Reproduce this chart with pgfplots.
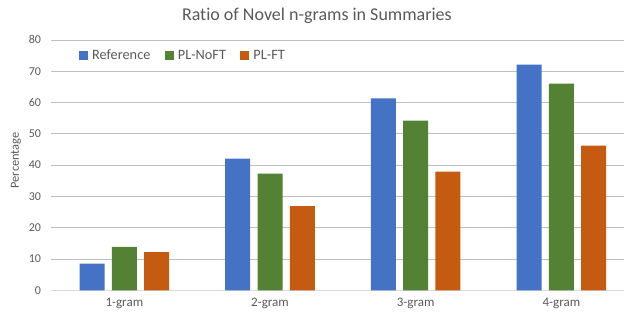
\documentclass[border=0pt]{standalone}
\usepackage{fontspec}
\setmainfont{Carlito}[Ligatures={NoCommon}]
\usepackage{pgfplots}
\pgfplotsset{compat=1.18}
\definecolor{cblue}{HTML}{4472C4}
\definecolor{cgreen}{HTML}{548235}
\definecolor{corange}{HTML}{C55A11}
\definecolor{txt}{HTML}{595959}
\definecolor{grid}{HTML}{D9D9D9}
\begin{document}
\begin{tikzpicture}
\path[use as bounding box] (-51.5pt,-25.7pt) rectangle (572.5pt,290.3pt);
\begin{axis}[
  scale only axis,
  width=572.5pt, height=250.4pt,
  ybar=7.3pt, bar width=25pt,
  xmin=-0.5, xmax=3.43,
  ymin=0, ymax=80,
  ytick={0,10,...,80},
  xtick={0,1,2,3},
  xticklabels={1-gram,2-gram,3-gram,4-gram},
  axis x line*=bottom,
  axis y line*=left,
  x axis line style={draw=grid, line width=1pt, -},
  y axis line style={draw=none},
  major tick length=0pt,
  xmajorgrids=false,
  ymajorgrids, grid style={grid, line width=0.8pt},
  yticklabel style={font=\fontsize{12}{14}\selectfont, text=txt, xshift=-7pt},
  xticklabel style={font=\fontsize{13}{15}\selectfont, text=txt, yshift=-4pt},
  /pgf/number format/assume math mode=true,
  legend style={at={(0.048,0.939)}, anchor=west, draw=none, fill=none,
    font=\fontsize{14.3}{16}\selectfont, text=txt, legend columns=-1,
    nodes={inner sep=0pt},
    /tikz/every odd column/.append style={column sep=4pt},
    /tikz/every even column/.append style={column sep=14.5pt}, inner sep=0pt},
  legend image code/.code={\fill[#1] (0pt,-4.5pt) rectangle (9pt,4.5pt);},
  clip=false,
]
\addplot[fill=cblue, draw=none] coordinates {(0,8.5) (1,42.1) (2,61.3) (3,72.1)};
\addplot[fill=cgreen, draw=none] coordinates {(0,13.9) (1,37.3) (2,54.2) (3,66.0)};
\addplot[fill=corange, draw=none] coordinates {(0,12.2) (1,26.9) (2,37.9) (3,46.2)};
\legend{Reference,PL-NoFT,PL-FT}
\end{axis}
\node[text=txt, font=\fontsize{18}{20}\selectfont, anchor=base] at (265.4pt,269.3pt) {Ratio of Novel n-grams in Summaries};
\node[text=txt, rotate=90, font=\fontsize{12.4}{14}\selectfont] at (-35.5pt,130pt) {Percentage};
\end{tikzpicture}
\end{document}
